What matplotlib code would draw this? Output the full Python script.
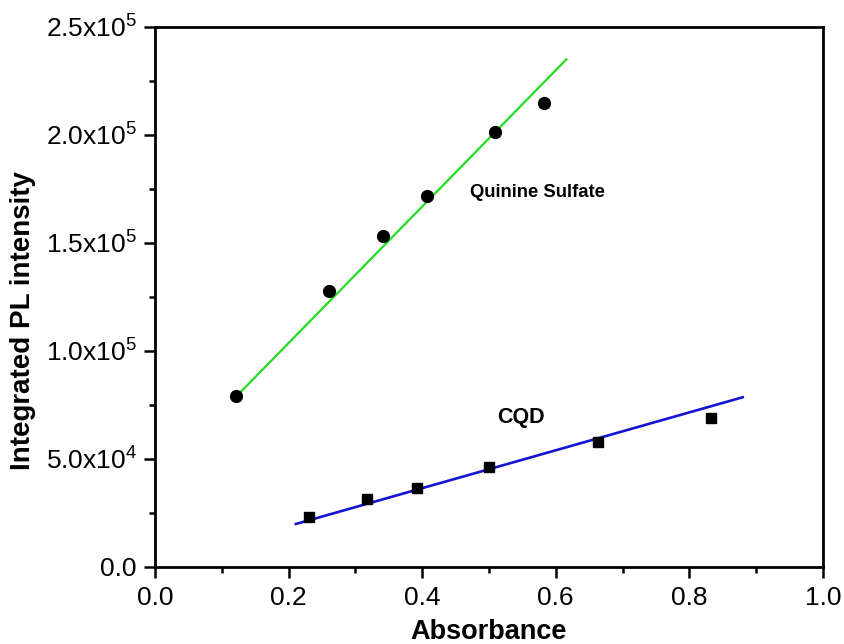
import numpy as np
import matplotlib
matplotlib.use("Agg")
import matplotlib.pyplot as plt
from matplotlib.ticker import FixedLocator, FuncFormatter, MultipleLocator

plt.rcParams['font.family'] = ['Liberation Sans', 'DejaVu Sans']
plt.rcParams['mathtext.fontset'] = 'custom'
plt.rcParams['mathtext.rm'] = 'Liberation Sans'
plt.rcParams['mathtext.it'] = 'Liberation Sans:italic'
plt.rcParams['mathtext.bf'] = 'Liberation Sans:bold'

# Quinine sulfate (reference dye)
qs_abs = [0.122, 0.260, 0.342, 0.407, 0.509, 0.583]
qs_int = [79000, 127800, 153400, 171900, 201500, 215000]
qs_fit_x = [0.120, 0.616]
qs_fit_slope = 315800
qs_fit_icpt = 40500

# carbon quantum dots
cqd_abs = [0.231, 0.317, 0.392, 0.500, 0.663, 0.832]
cqd_int = [23000, 31300, 36400, 46200, 57700, 69100]
cqd_fit_x = [0.211, 0.880]
cqd_fit_slope = 87700
cqd_fit_icpt = 1400

yticks = [0, 50000, 100000, 150000, 200000, 250000]
ytick_labels = ['0.0', r'5.0x10$^{4}$', r'1.0x10$^{5}$', r'1.5x10$^{5}$',
                r'2.0x10$^{5}$', r'2.5x10$^{5}$']

fig = plt.figure(figsize=(8.44, 6.44), dpi=100)
ax = fig.add_axes([0.1836, 0.1196, 0.7914, 0.8385])

qx = np.array(qs_fit_x)
cx = np.array(cqd_fit_x)
ax.plot(qx, qs_fit_slope * qx + qs_fit_icpt, color='#22dd22', lw=1.6, zorder=2)
ax.plot(cx, cqd_fit_slope * cx + cqd_fit_icpt, color='#1414d2', lw=1.9, zorder=2)
ax.plot(qs_abs, qs_int, 'o', color='black', ms=8.5, zorder=3)
ax.plot(cqd_abs, cqd_int, 's', color='black', ms=7, zorder=3)

ax.text(0.472, 173600, 'Quinine Sulfate', fontsize=13.3, fontweight='bold',
        va='center', ha='left')
ax.text(0.512, 69400, 'CQD', fontsize=15.5, fontweight='bold',
        va='center', ha='left')

ax.set_xlim(0, 1.0)
ax.set_ylim(0, 250000)
ax.xaxis.set_major_locator(MultipleLocator(0.2))
ax.xaxis.set_minor_locator(MultipleLocator(0.1))
ax.xaxis.set_major_formatter(FuncFormatter(lambda v, p: f'{v:.1f}'))
ax.yaxis.set_major_locator(FixedLocator(yticks))
ax.set_yticklabels(ytick_labels)
ax.yaxis.set_minor_locator(MultipleLocator(25000))

for s in ax.spines.values():
    s.set_linewidth(2.0)
ax.tick_params(which='both', direction='out', top=False, right=False,
               width=1.8, labelsize=19)
ax.tick_params(which='major', length=8)
ax.tick_params(which='minor', length=4.5)
ax.tick_params(axis='y', pad=5)
ax.tick_params(axis='x', pad=6)

ax.set_xlabel('Absorbance', fontsize=19.5, fontweight='bold')
ax.set_ylabel('Integrated PL intensity', fontsize=20, fontweight='bold')
ax.xaxis.set_label_coords(0.5, -0.097)
ax.yaxis.set_label_coords(-0.178, 0.457)

fig.savefig('out.png', dpi=100)
